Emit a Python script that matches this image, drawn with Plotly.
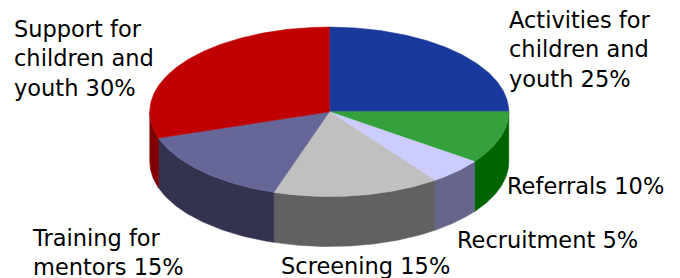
import numpy as np
import plotly.graph_objects as go

# ---- data ----
categories = ["Activities for<br>children and<br>youth", "Referrals", "Recruitment",
              "Screening", "Training for<br>mentors", "Support for<br>children and<br>youth"]
values = [25, 10, 5, 15, 15, 30]

# ---- styles ----
top_colors = ["#1A399C", "#34A13D", "#CCCCFF", "#C0C0C0", "#666699", "#C00000"]
side_colors = ["#0E1F57", "#006400", "#66668A", "#616161", "#33334F", "#800000"]
label_pos = [(510, 27), (508, 193), (458, 247), (282, 273), (33, 245), (15, 36)]
FONT_SIZE = 22.5

W, H = 680, 278
OFF = 8  # page body margin
CX, CY, RX, RY, DEPTH = 329.3, 111.8, 179.5, 84.7, 50.0


def pt(t):
    return CX + RX * np.sin(t), CY - RY * np.cos(t)


fig = go.Figure()
total = float(sum(values))
bounds = np.concatenate([[0.0], np.cumsum(values) / total * 2 * np.pi])

# sides first (front half of the ellipse)
for i, v in enumerate(values):
    a0, a1 = bounds[i], bounds[i + 1]
    lo, hi = max(a0, np.pi / 2), min(a1, 3 * np.pi / 2)
    if hi <= lo:
        continue
    t = np.linspace(lo, hi, 80)
    x, y = pt(t)
    xs = np.concatenate([x, x[::-1], [x[0]]])
    ys = np.concatenate([y, y[::-1] + DEPTH, [y[0]]])
    fig.add_trace(go.Scatter(x=xs, y=ys, fill="toself", mode="lines",
                             line=dict(width=0.6, color=side_colors[i]),
                             fillcolor=side_colors[i], hoverinfo="skip"))

# top faces
for i, v in enumerate(values):
    a0, a1 = bounds[i], bounds[i + 1]
    t = np.linspace(a0, a1, max(8, int(v * 6)))
    x, y = pt(t)
    xs = np.concatenate([[CX], x, [CX]])
    ys = np.concatenate([[CY], y, [CY]])
    fig.add_trace(go.Scatter(x=xs, y=ys, fill="toself", mode="lines",
                             line=dict(width=0.6, color=top_colors[i]),
                             fillcolor=top_colors[i], hoverinfo="skip",
                             name=categories[i].replace("<br>", " ")))

for i, (c, v) in enumerate(zip(categories, values)):
    lx, ly = label_pos[i]
    fig.add_annotation(x=(lx - 3 - OFF) / W, y=1 - (ly - FONT_SIZE - OFF) / H,
                       xref="paper", yref="paper",
                       text=f"{c} {v}%", showarrow=False, align="left",
                       xanchor="left", yanchor="top",
                       font=dict(family="DejaVu Sans, Verdana, sans-serif",
                                 size=FONT_SIZE, color="#000000"))

fig.update_layout(width=W, height=H, margin=dict(l=0, r=0, t=0, b=0),
                  showlegend=False, paper_bgcolor="white", plot_bgcolor="white",
                  xaxis=dict(range=[OFF, W + OFF], visible=False, fixedrange=True),
                  yaxis=dict(range=[H + OFF, OFF], visible=False, fixedrange=True))

fig.write_html("out.html", config={"displayModeBar": False})
